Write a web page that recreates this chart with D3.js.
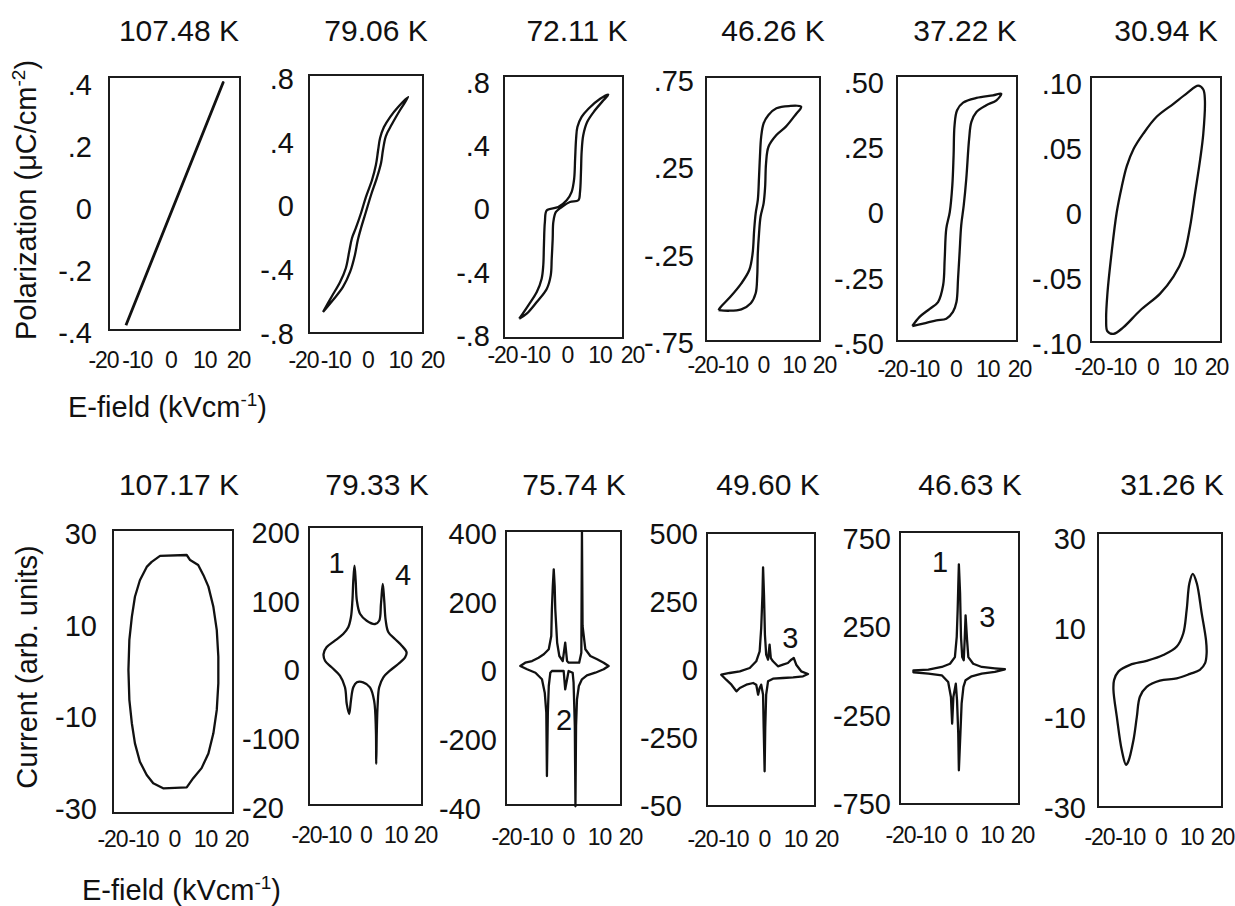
<!DOCTYPE html>
<html>
<head>
<meta charset="utf-8">
<script src="https://cdn.jsdelivr.net/npm/d3@7"></script>
<style>
  html, body { margin: 0; padding: 0; background: #fff; }
  svg { display: block; font-family: "Liberation Sans", Arial, Helvetica, sans-serif; }
</style>
</head>
<body>
<svg id="fig" width="1235" height="906"></svg>
<script>
// ---------- data ----------
const fieldTicks = [-20, -10, 0, 10, 20];

const polTemps = ["107.48 K", "79.06 K", "72.11 K", "46.26 K", "37.22 K", "30.94 K"];
const curTemps = ["107.17 K", "79.33 K", "75.74 K", "49.60 K", "46.63 K", "31.26 K"];

const polTickValues = [
  [-0.4, -0.2, 0, 0.2, 0.4],
  [-0.8, -0.4, 0, 0.4, 0.8],
  [-0.8, -0.4, 0, 0.4, 0.8],
  [-0.75, -0.25, 0.25, 0.75],
  [-0.5, -0.25, 0, 0.25, 0.5],
  [-0.1, -0.05, 0, 0.05, 0.1]
];
const polTickLabels = [
  ["-.4", "-.2", "0", ".2", ".4"],
  ["-.8", "-.4", "0", ".4", ".8"],
  ["-.8", "-.4", "0", ".4", ".8"],
  ["-.75", "-.25", ".25", ".75"],
  ["-.50", "-.25", "0", ".25", ".50"],
  ["-.10", "-.05", "0", ".05", ".10"]
];
const curTickValues = [
  [-30, -10, 10, 30],
  [-200, -100, 0, 100, 200],
  [-400, -200, 0, 200, 400],
  [-500, -250, 0, 250, 500],
  [-750, -250, 250, 750],
  [-30, -10, 10, 30]
];
const curTickLabels = [
  ["-30", "-10", "10", "30"],
  ["-20", "-100", "0", "100", "200"],
  ["-40", "-200", "0", "200", "400"],
  ["-50", "-250", "0", "250", "500"],
  ["-750", "-250", "250", "750"],
  ["-30", "-10", "10", "30"]
];

// P–E loops: [E (kV/cm), P (uC/cm^2)]
const loopP_10748 = [[-13.2, -0.378], [15.6, 0.405], [-13.2, -0.378]];
const loopP_7906 = [
  [-13.8, -0.668], [-10.7, -0.593], [-7.6, -0.511], [-5.4, -0.417], [-3.9, -0.310], [-3.0, -0.216],
  [-2.0, -0.141], [-0.5, -0.041], [1.1, 0.066], [2.9, 0.173], [4.2, 0.267], [4.8, 0.348],
  [5.7, 0.436], [7.6, 0.511], [10.1, 0.599], [12.6, 0.681],
  [9.5, 0.618], [7.0, 0.555], [5.1, 0.492], [3.9, 0.423], [3.3, 0.348], [2.6, 0.254],
  [1.4, 0.160], [-0.5, 0.053], [-2.0, -0.047], [-3.6, -0.141], [-4.8, -0.204], [-5.7, -0.292],
  [-6.7, -0.392], [-8.5, -0.480], [-11.0, -0.568], [-13.8, -0.668]
];
const loopP_7211 = [
  [-14.7, -0.697], [-12.4, -0.665], [-9.3, -0.591], [-6.2, -0.507], [-5.0, -0.423], [-4.7, -0.318],
  [-4.4, -0.191], [-4.2, -0.085], [-3.4, -0.022], [-1.6, 0.009], [0.9, 0.041], [3.5, 0.052],
  [4.0, 0.104], [4.3, 0.231], [4.5, 0.357], [5.0, 0.463], [6.2, 0.547], [8.6, 0.621],
  [11.2, 0.684], [12.7, 0.720],
  [10.2, 0.694], [6.6, 0.631], [4.5, 0.579], [3.2, 0.515], [2.8, 0.441], [2.5, 0.315],
  [2.2, 0.188], [1.4, 0.104], [-0.1, 0.052], [-2.7, 0.009], [-6.2, -0.011], [-6.8, -0.085],
  [-7.1, -0.233], [-7.3, -0.359], [-7.8, -0.444], [-9.3, -0.528], [-11.9, -0.612], [-14.7, -0.697]
];
const loopP_4626 = [
  [-14.6, -0.567], [-11.3, -0.571], [-7.1, -0.563], [-4.0, -0.528], [-2.4, -0.471], [-1.9, -0.376],
  [-1.7, -0.242], [-1.3, -0.128], [-0.8, -0.033], [0.2, 0.044], [0.7, 0.139], [1.0, 0.273],
  [1.8, 0.368], [4.4, 0.435], [7.5, 0.483], [10.6, 0.550], [12.5, 0.597],
  [8.5, 0.601], [4.4, 0.588], [1.8, 0.550], [0.2, 0.502], [-0.6, 0.425], [-1.0, 0.311],
  [-1.3, 0.196], [-1.7, 0.063], [-2.4, -0.013], [-2.9, -0.109], [-3.4, -0.242], [-4.5, -0.338],
  [-7.1, -0.414], [-10.7, -0.491], [-13.8, -0.548], [-14.6, -0.567]
];
const loopP_3722 = [
  [-13.6, -0.435], [-10.2, -0.426], [-6.0, -0.413], [-2.9, -0.407], [-0.8, -0.381], [0.3, -0.343],
  [0.8, -0.254], [1.3, -0.151], [1.8, -0.049], [2.6, 0.028], [3.4, 0.130], [4.3, 0.283],
  [5.0, 0.347], [6.6, 0.385], [9.7, 0.411], [12.9, 0.430], [14.4, 0.455],
  [11.8, 0.449], [6.6, 0.439], [2.4, 0.421], [0.5, 0.392], [-0.3, 0.334], [-0.6, 0.219],
  [-1.0, 0.104], [-1.8, 0.002], [-2.9, -0.062], [-3.4, -0.177], [-3.9, -0.279], [-5.5, -0.343],
  [-8.1, -0.369], [-11.3, -0.400], [-13.6, -0.435]
];
const loopP_3094 = [
  [14.4, 0.098], [16.0, 0.095], [16.5, 0.087], [16.0, 0.061], [15.0, 0.041], [13.4, 0.015],
  [11.8, -0.011], [9.7, -0.034], [6.6, -0.049], [2.4, -0.062], [-3.9, -0.075], [-9.2, -0.088],
  [-12.3, -0.093], [-14.2, -0.091], [-14.6, -0.082], [-14.2, -0.062], [-12.9, -0.031],
  [-11.3, 0.000], [-9.7, 0.020], [-8.1, 0.036], [-6.0, 0.049], [-2.9, 0.061], [1.3, 0.074],
  [6.6, 0.084], [10.8, 0.092]
];

// I–E curves: [E (kV/cm), current (arb. units)]
const curveI_10717 = [
  [-4.5, 25.0], [4.1, 25.2], [5.2, 24.1], [7.8, 23.0], [9.5, 20.8], [11.1, 18.3], [12.7, 13.9],
  [13.8, 8.8], [14.3, 3.0], [14.3, -2.8], [13.8, -8.6], [12.7, -13.7], [11.1, -18.1], [8.9, -21.3],
  [6.2, -23.5], [4.1, -25.5], [-3.5, -25.7], [-6.7, -24.6], [-8.8, -22.8], [-11.0, -19.9],
  [-12.6, -15.9], [-13.6, -11.5], [-14.4, -6.4], [-14.7, 0.1], [-14.4, 6.7], [-13.6, 11.7],
  [-12.6, 16.1], [-11.0, 19.7], [-8.8, 22.6], [-7.2, 23.7]
];
const curveI_7933 = [
  [-14.1, 22.5], [-13.1, 32.3], [-10.3, 41.9], [-7.5, 51.6], [-5.8, 61.4], [-4.9, 75.9], [-4.4, 100.1],
  [-4.1, 129.2], [-3.7, 151.0], [-3.3, 129.2], [-2.9, 100.1], [-1.8, 80.7], [0.4, 71.0], [3.2, 66.2],
  [4.6, 71.0], [5.2, 95.3], [5.8, 124.4], [6.3, 100.1], [6.8, 71.0], [7.7, 54.1], [9.9, 44.4],
  [12.2, 34.6], [13.8, 25.0], [13.3, 17.7], [11.0, 8.0], [8.2, -1.7], [6.0, -11.3], [4.6, -25.9],
  [4.1, -50.2], [3.8, -89.0], [3.6, -137.5], [3.5, -89.0], [2.9, -45.4], [1.5, -25.9], [-0.8, -18.6],
  [-2.9, -18.6], [-4.1, -25.9], [-4.9, -45.4], [-5.5, -64.7], [-6.3, -50.2], [-6.9, -25.9],
  [-8.6, -9.0], [-11.4, 3.2], [-13.6, 12.8]
];
const curveI_7574 = [
  [-15.4, 13.1], [-13.8, 22.7], [-11.6, 27.6], [-9.5, 37.2], [-7.8, 47.1], [-6.2, 61.7], [-5.4, 100.4],
  [-5.2, 178.0], [-4.9, 245.8], [-4.6, 294.4], [-4.3, 245.8], [-4.1, 178.0], [-3.5, 80.9], [-2.8, 42.2],
  [-1.7, 27.6], [-0.9, 80.9], [-0.3, 27.6], [0.2, 22.7], [3.6, 22.7], [4.3, 51.8], [4.5, 405],
  [4.7, 129.5], [5.6, 61.7], [7.2, 42.2], [9.4, 32.6], [11.5, 22.7], [13.1, 13.1], [11.5, 3.5],
  [8.8, -6.4], [6.1, -14.0], [4.5, -25.6], [3.5, -45.1], [2.9, -83.8], [2.6, -161.5], [2.4, -395],
  [2.2, -161.5], [1.8, -35.5], [1.5, -6.4], [0.2, -1.5], [-0.9, -54.7], [-1.4, -1.5], [-5.2, -1.5],
  [-5.7, -6.4], [-6.2, -45.1], [-6.5, -122.8], [-6.8, -306.9], [-7.0, -122.8], [-7.5, -64.6],
  [-8.4, -25.6], [-10.5, -6.4], [-13.2, 3.5]
];
const curveI_4960 = [
  [-13.8, -21.0], [-11.1, -14.7], [-7.8, -8.5], [-4.6, 3.7], [-2.5, 28.3], [-1.4, 65.1], [-0.9, 150.7],
  [-0.5, 273.2], [-0.3, 373.9], [0.0, 273.2], [0.3, 126.1], [0.7, 52.6], [1.3, 34.2], [1.8, 89.3],
  [2.2, 40.4], [2.9, 28.3], [4.5, 9.9], [6.1, 15.8], [7.7, 22.1], [8.8, 34.2], [9.6, 40.4],
  [10.4, 15.8], [12.0, -8.5], [14.2, -18.4], [12.6, -26.8], [9.4, -30.5], [6.1, -33.1], [2.9, -35.7],
  [1.3, -45.2], [0.7, -94.5], [0.4, -216.9], [0.2, -376.1], [-0.1, -216.9], [-0.3, -94.5],
  [-0.9, -57.7], [-1.4, -69.9], [-1.9, -94.5], [-2.5, -57.7], [-3.5, -51.5], [-5.7, -57.7],
  [-7.8, -69.9], [-8.9, -82.0], [-10.5, -57.7], [-12.2, -39.3]
];
const curveI_4663 = [
  [-15.6, 1], [-10.7, 5], [-6.3, 20], [-3.6, 38], [-2.0, 76], [-1.4, 190], [-1.1, 341], [-0.9, 473],
  [-0.7, 601], [-0.3, 435], [0.0, 190], [0.4, 76], [0.9, 58], [1.2, 171], [1.5, 312], [2.0, 171],
  [2.4, 76], [4.0, 38], [6.8, 20], [11.1, 12], [14.4, 7], [11.1, -8], [6.8, -18], [3.5, -33],
  [1.5, -55], [0.8, -93], [0.2, -188], [-0.2, -358], [-0.7, -565], [-0.9, -358], [-1.3, -169],
  [-1.7, -75], [-2.5, -150], [-2.9, -301], [-3.3, -150], [-4.2, -65], [-6.3, -27], [-10.7, -18],
  [-15.6, -10]
];
const curveI_3126 = [
  [10.5, 22.0], [11.8, 19.9], [13.4, 13.2], [14.8, 7.2], [15.0, 4.3], [14.5, 2.1], [12.8, 0.6],
  [9.6, -0.3], [5.3, -1.3], [-0.2, -1.8], [-4.5, -3.2], [-6.7, -5.4], [-7.7, -9.9], [-8.8, -15.1],
  [-10.5, -19.9], [-11.2, -20.6], [-12.6, -17.3], [-14.2, -9.9], [-15.3, -3.9], [-15.1, -1.7],
  [-13.7, 0.2], [-9.9, 1.7], [-4.5, 2.6], [0.9, 3.9], [5.3, 5.8], [7.4, 8.7], [8.5, 13.9], [9.4, 19.9]
];

const polSeries = [loopP_10748, loopP_7906, loopP_7211, loopP_4626, loopP_3722, loopP_3094];
const curSeries = [curveI_10717, curveI_7933, curveI_7574, curveI_4960, curveI_4663, curveI_3126];

// numbered current peaks: [panel, label, E, current]
const peakLabels = [
  [1, "1", -9.7, 156], [1, "4", 12.6, 138],
  [2, "2", -1.3, -144],
  [3, "3", 8.5, 114],
  [4, "1", -6.9, 614], [4, "3", 8.6, 308]
];

// ---------- layout ----------
const topLayout = [
  { box: [109, 240, 77, 330], xr: [103, 238], yr: [332, 84], tickX: 92, xTickY: 368, titleX: 179, curve: "open" },
  { box: [309, 423, 75, 333], xr: [303, 432], yr: [333, 78], tickX: 294, xTickY: 368, titleX: 376, curve: "smooth" },
  { box: [504, 623, 76, 338], xr: [502, 632], yr: [335, 82], tickX: 490, xTickY: 363, titleX: 577, curve: "smooth" },
  { box: [706, 820, 77, 341], xr: [702, 824], yr: [342, 80], tickX: 694, xTickY: 373, titleX: 773, curve: "smooth" },
  { box: [897, 1017, 76, 341], xr: [892, 1019], yr: [343, 82], tickX: 884, xTickY: 377, titleX: 965, curve: "smooth" },
  { box: [1091, 1221, 77, 342], xr: [1089, 1216], yr: [343, 83], tickX: 1082, xTickY: 375, titleX: 1166, curve: "smoothClosed" }
];
const bottomLayout = [
  { box: [113, 233, 530, 813], xr: [112, 236], yr: [808, 533], tickX: 97, xTickY: 847, titleX: 179, curve: "closed" },
  { box: [309, 422, 527, 805], xr: [306, 425], yr: [807, 532], tickX: 300, xTickY: 843, titleX: 377, curve: "smoothClosed" },
  { box: [506, 621, 531, 805], xr: [506, 630], yr: [808, 533], tickX: 497, xTickY: 845, titleX: 574, curve: "closed" },
  { box: [707, 815, 533, 806], xr: [702, 826], yr: [805, 533], tickX: 698, xTickY: 847, titleX: 768, curve: "closed" },
  { box: [900, 1019, 532, 804], xr: [900, 1022], yr: [803, 538], tickX: 891, xTickY: 843, titleX: 970, curve: "closed" },
  { box: [1098, 1222, 533, 807], xr: [1099, 1222], yr: [807, 538], tickX: 1086, xTickY: 845, titleX: 1172, curve: "smoothClosed" }
];

const INK = "#111";
const svg = d3.select("#fig");

const curveFor = {
  open: d3.curveLinear,
  closed: d3.curveLinearClosed,
  smooth: d3.curveCatmullRom.alpha(0.5),
  smoothClosed: d3.curveCatmullRomClosed.alpha(0.5)
};

function drawPanel(lay, title, titleY, series, tickVals, tickLabels) {
  const x = d3.scaleLinear().domain([-20, 20]).range(lay.xr);
  const y = d3.scaleLinear().domain(d3.extent(tickVals)).range(lay.yr);
  const g = svg.append("g");

  // frame
  const [bx0, bx1, by0, by1] = lay.box;
  g.append("rect")
    .attr("x", bx0).attr("y", by0)
    .attr("width", bx1 - bx0).attr("height", by1 - by0)
    .attr("fill", "none").attr("stroke", "#1c1c1c").attr("stroke-width", 2);

  // trace
  g.append("path")
    .datum(series)
    .attr("fill", "none")
    .attr("stroke", INK)
    .attr("stroke-width", lay.curve === "open" ? 2.8 : 2.3)
    .attr("stroke-linejoin", "round")
    .attr("d", d3.line().x(d => x(d[0])).y(d => y(d[1])).curve(curveFor[lay.curve]));

  // y tick labels
  const ya = g.append("g")
    .attr("transform", `translate(${lay.tickX},0)`)
    .call(d3.axisLeft(y).tickValues(tickVals).tickSize(0).tickPadding(0)
      .tickFormat((d, i) => tickLabels[i]));
  ya.attr("font-size", null).attr("font-family", null);
  ya.select(".domain").remove();
  ya.selectAll("text")
    .attr("x", 0)
    .attr("dy", "0.36em")
    .style("font-size", "29px")
    .attr("fill", INK)
    .attr("dx", (d, i) => {
      // a label printed shorter than its value ends one digit early
      const full = String(d), lab = tickLabels[i];
      return (full.length > lab.length && full.startsWith(lab)) ? `${-0.556 * (full.length - lab.length)}em` : 0;
    });

  // x tick labels
  const xa = g.append("g")
    .attr("transform", `translate(0,${lay.xTickY})`)
    .call(d3.axisBottom(x).tickValues(fieldTicks).tickSize(0).tickPadding(0).tickFormat(d => String(d)));
  xa.attr("font-size", null).attr("font-family", null);
  xa.select(".domain").remove();
  xa.selectAll("text")
    .attr("y", 0).attr("dy", null)
    .style("font-size", "23px")
    .style("letter-spacing", "-1px")
    .attr("fill", INK);

  // temperature title
  svg.append("text")
    .attr("x", lay.titleX).attr("y", titleY)
    .attr("text-anchor", "middle")
    .style("font-size", "30px")
    .attr("fill", INK)
    .text(title);

  return { x, y };
}

topLayout.forEach((lay, i) => drawPanel(lay, polTemps[i], 41, polSeries[i], polTickValues[i], polTickLabels[i]));
const curScales = bottomLayout.map((lay, i) => drawPanel(lay, curTemps[i], 495, curSeries[i], curTickValues[i], curTickLabels[i]));

// peak numbers
peakLabels.forEach(([p, txt, e, v]) => {
  const s = curScales[p];
  svg.append("text")
    .attr("x", s.x(e)).attr("y", s.y(v))
    .attr("dy", "0.36em")
    .attr("text-anchor", "middle")
    .style("font-size", "29px")
    .attr("fill", INK)
    .text(txt);
});

// axis titles
function rotatedTitle(cx, cy, parts) {
  const t = svg.append("text")
    .attr("transform", `translate(${cx},${cy}) rotate(-90)`)
    .attr("text-anchor", "middle")
    .style("font-size", "29px")
    .attr("fill", INK);
  parts(t);
}
rotatedTitle(36, 200, t => {
  t.append("tspan").text("Polarization (\u03BCC/cm");
  t.append("tspan").attr("dy", -11).style("font-size", "19px").text("-2");
  t.append("tspan").attr("dy", 11).text(")");
});
rotatedTitle(37, 667, t => {
  t.append("tspan").text("Current (arb. units)");
});

function fieldTitle(x0, yb) {
  const t = svg.append("text")
    .attr("x", x0).attr("y", yb)
    .style("font-size", "29px")
    .attr("fill", INK);
  t.append("tspan").text("E-field (kVcm");
  t.append("tspan").attr("dy", -11).style("font-size", "19px").text("-1");
  t.append("tspan").attr("dy", 11).text(")");
}
fieldTitle(68, 417);
fieldTitle(82, 900);
</script>
</body>
</html>
